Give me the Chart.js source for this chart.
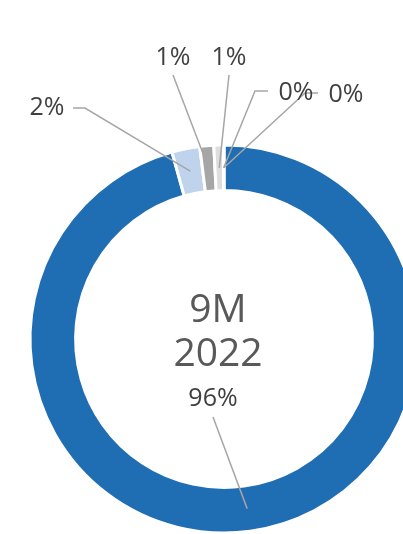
<!DOCTYPE html>
<html>
<head>
<meta charset="utf-8">
<script src="https://cdn.jsdelivr.net/npm/chart.js@4.4.1/dist/chart.umd.min.js"></script>
<style>
  html, body { margin: 0; padding: 0; background: #fff; overflow: hidden; width: 403px; height: 534px; }
  #wrap { position: absolute; left: 0; top: 0; width: 448px; height: 678px; }
</style>
</head>
<body>
<div id="wrap"><canvas id="chart" width="448" height="678"></canvas></div>
<script>
// data
const categories  = ['Segment A', 'Segment B', 'Segment C', 'Segment D', 'Segment E', 'Segment F'];
const shares      = [95.68, 2.32, 1.16, 0.8, 0.02, 0.02];
const sliceColors = ['#1f6db3', '#bfd3ec', '#a6a6a6', '#dedede', '#dedede', '#dedede'];
const centerLines = ['9M', '2022'];

// label placement, relative to the doughnut centre (text centre, line start, optional elbow)
const LABEL_LAYOUT = [
  { tx: -11,  ty: 60,   sx: -11,  sy: 78 },
  { tx: -177, ty: -231, sx: -151, sy: -231, ex: -139, ey: -231 },
  { tx: -51,  ty: -281, sx: -51,  sy: -264 },
  { tx: 5,    ty: -281, sx: 5,    sy: -264 },
  { tx: 72,   ty: -246, sx: 44,   sy: -248, ex: 31, ey: -248 },
  { tx: 122,  ty: -244, sx: 94,   sy: -246, ex: 81, ey: -246 },
];

const FONT = '"Open Sans", "DejaVu Sans", sans-serif';

const leaderLabels = {
  id: 'leaderLabels',
  afterDraw(chart) {
    const ctx  = chart.ctx;
    const arcs = chart.getDatasetMeta(0).data;
    if (!arcs.length) return;
    const cx = arcs[0].x, cy = arcs[0].y;

    ctx.save();
    // leader lines
    ctx.strokeStyle = '#a6a6a6';
    ctx.lineWidth   = 1.5;
    arcs.forEach((arc, i) => {
      const L = LABEL_LAYOUT[i];
      const p = arc.getProps(['startAngle', 'endAngle', 'innerRadius', 'outerRadius'], true);
      const mid = (p.startAngle + p.endAngle) / 2;
      const r   = (p.innerRadius + p.outerRadius) / 2;
      ctx.beginPath();
      ctx.moveTo(cx + L.sx, cy + L.sy);
      if (L.ex !== undefined) ctx.lineTo(cx + L.ex, cy + L.ey);
      ctx.lineTo(cx + Math.cos(mid) * r, cy + Math.sin(mid) * r);
      ctx.stroke();
    });

    // percentages
    ctx.fillStyle    = '#404040';
    ctx.font         = '25px ' + FONT;
    ctx.textAlign    = 'center';
    ctx.textBaseline = 'middle';
    arcs.forEach((arc, i) => {
      const L = LABEL_LAYOUT[i];
      ctx.fillText(Math.round(shares[i]) + '%', cx + L.tx, cy + L.ty);
    });

    // centre title
    ctx.fillStyle = '#595959';
    ctx.font      = '39px ' + FONT;
    ctx.fillText(centerLines[0], cx - 6, cy - 28);
    ctx.fillText(centerLines[1], cx - 6, cy + 16);
    ctx.restore();
  }
};

new Chart(document.getElementById('chart').getContext('2d'), {
  type: 'doughnut',
  data: {
    labels: categories,
    datasets: [{
      data:            shares,
      backgroundColor: sliceColors,
      borderColor:     '#ffffff',
      borderWidth:     3,
    }],
  },
  options: {
    responsive: false,
    animation:  false,
    devicePixelRatio: 1,
    radius: 194,
    cutout: '76.5%',
    plugins: {
      legend:  { display: false },
      tooltip: { enabled: false },
    },
  },
  plugins: [leaderLabels],
});
</script>
</body>
</html>
